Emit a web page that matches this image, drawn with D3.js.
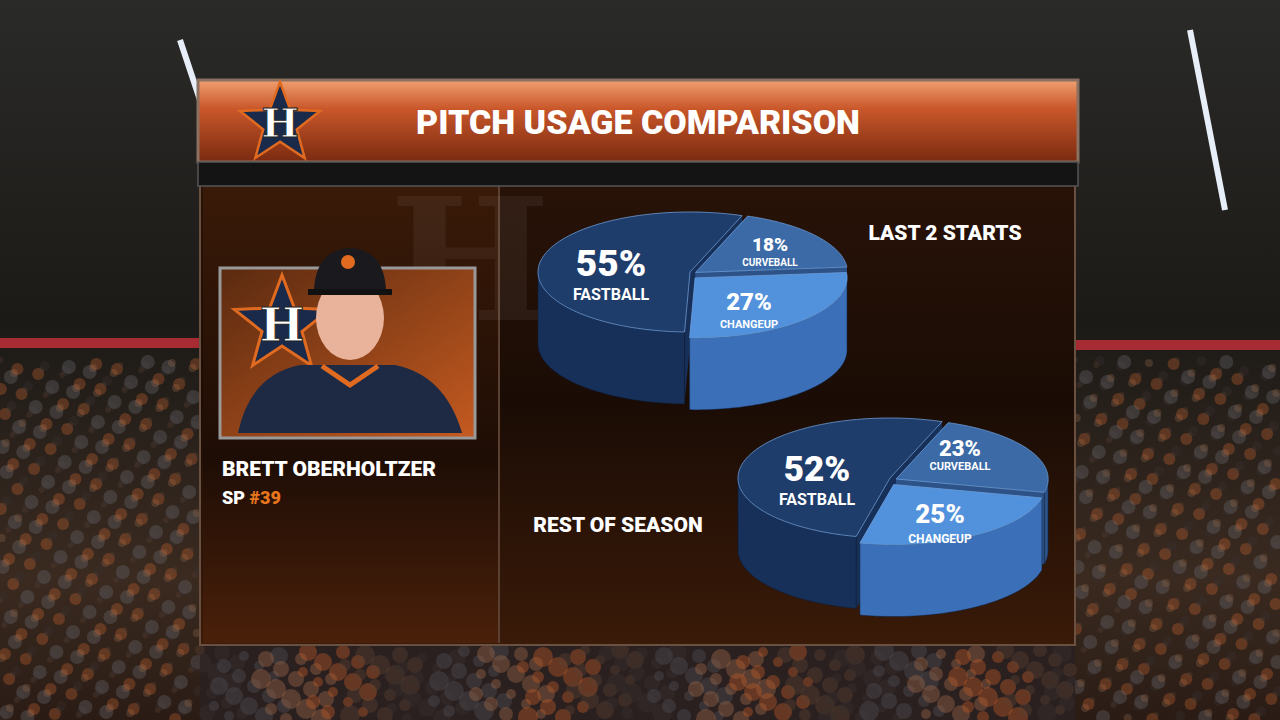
<!DOCTYPE html>
<html><head><meta charset="utf-8">
<script src="https://cdn.jsdelivr.net/npm/d3@7"></script>
<style>body{margin:0;background:#000}svg{display:block}</style>
</head><body>
<svg id="c" width="1280" height="720"></svg>
<script>
// pitch mix, order: curveball, changeup, fastball
var pitchNames = ["CURVEBALL", "CHANGEUP", "FASTBALL"];
var last2Starts = [18, 27, 55];
var restOfSeason = [23, 25, 52];
var chartTitle = "PITCH USAGE COMPARISON";

var svg = d3.select("#c");
var defs = svg.append("defs");

function lin(id, stops, x2, y2){
  var g = defs.append("linearGradient").attr("id", id)
    .attr("x1",0).attr("y1",0).attr("x2",x2||0).attr("y2",y2===undefined?1:y2);
  stops.forEach(function(s){ g.append("stop").attr("offset",s[0]).attr("stop-color",s[1]); });
}
lin("bg", [[0,"#2a2a28"],[0.45,"#1c1a17"],[0.8,"#3a2a20"],[1,"#2a1c15"]]);
lin("head", [[0,"#f0a070"],[0.35,"#c9572a"],[1,"#7a2a10"]]);
lin("panel", [[0,"#2a1308"],[0.5,"#1a0c05"],[1,"#3a1a08"]]);
lin("leftp", [[0,"#3a1a08"],[0.6,"#1e0d05"],[1,"#4a200a"]]);
lin("photo", [[0,"#5a2a10"],[1,"#c55a20"]], 1, 1);

// background stadium
svg.append("rect").attr("width",1280).attr("height",720).attr("fill","url(#bg)");
svg.append("rect").attr("x",0).attr("y",338).attr("width",200).attr("height",10).attr("fill","#c8303a").attr("opacity",0.8);
svg.append("rect").attr("x",1075).attr("y",340).attr("width",205).attr("height",10).attr("fill","#c8303a").attr("opacity",0.8);
svg.append("path").attr("d","M180,40 L200,100 M1190,30 L1225,210").attr("stroke","#e8eef8").attr("stroke-width",6);
// crowd texture
var crowd = [];
for (var i = 0; i < 900; i++) crowd.push(i);
svg.append("g").selectAll("circle").data(crowd).join("circle")
  .attr("cx", function(d){ var x=(d*97)%480; return x<240? x*0.83 : 1075+(x-240)*0.85; })
  .attr("cy", function(d){ return 360+((d*53)%360); })
  .attr("r", function(d){ return 3+(d%5); })
  .attr("fill", function(d){ return ["#5a4030","#8a6048","#3a3030","#c06030","#6a6a70"][d%5]; })
  .attr("opacity",0.35);
svg.append("rect").attr("x",200).attr("y",645).attr("width",875).attr("height",75).attr("fill","#2a2020");
svg.append("g").selectAll("circle").data(crowd.slice(0,300)).join("circle")
  .attr("cx", function(d){ return 200+((d*131)%875); })
  .attr("cy", function(d){ return 650+((d*29)%70); })
  .attr("r", function(d){ return 5+(d%6); })
  .attr("fill", function(d){ return ["#5a4030","#a06848","#3a3030","#c05a25","#505058"][d%5]; })
  .attr("opacity",0.4);

// panel
svg.append("rect").attr("x",200).attr("y",160).attr("width",875).attr("height",485).attr("fill","url(#panel)").attr("stroke","#6a5040").attr("stroke-width",2);
svg.append("rect").attr("x",203).attr("y",185).attr("width",295).attr("height",458).attr("fill","url(#leftp)");
svg.append("line").attr("x1",499).attr("x2",499).attr("y1",185).attr("y2",643).attr("stroke","#5a4030").attr("stroke-width",2);
svg.append("rect").attr("x",198).attr("y",80).attr("width",880).attr("height",82).attr("fill","url(#head)").attr("stroke","#8a7060").attr("stroke-width",3);
svg.append("rect").attr("x",198).attr("y",162).attr("width",880).attr("height",24).attr("fill","#141414").attr("stroke","#555").attr("stroke-width",1.5);

function astro(g, cx, cy, s){
  var pts = d3.range(10).map(function(i){
    var a = i*Math.PI/5 - Math.PI/2, r = i%2? s*0.42 : s;
    return [cx+r*Math.cos(a), cy+r*Math.sin(a)];
  });
  g.append("polygon").attr("points",pts.join(" ")).attr("fill","#1a2a4a").attr("stroke","#e06a20").attr("stroke-width",s*0.06);
  g.append("text").attr("x",cx).attr("y",cy+s*0.32).attr("text-anchor","middle")
    .attr("font-family","DejaVu Serif").attr("font-weight","bold").attr("font-size",s*0.95)
    .attr("fill","#fff").attr("stroke","#222").attr("stroke-width",1).text("H");
}
astro(svg, 280, 124, 42);
svg.append("text").attr("x",638).attr("y",134).attr("text-anchor","middle")
  .attr("font-family","Roboto").attr("font-weight",900).attr("font-size",34).attr("fill","#fff").text(chartTitle);
// faint watermark
svg.append("text").attr("x",470).attr("y",320).attr("text-anchor","middle").attr("font-family","DejaVu Serif").attr("font-weight","bold")
  .attr("font-size",170).attr("fill","#fff").attr("opacity",0.05).text("H");

// photo
svg.append("rect").attr("x",220).attr("y",268).attr("width",255).attr("height",170).attr("fill","url(#photo)").attr("stroke","#999").attr("stroke-width",3);
var ph = svg.append("g");
astro(ph, 282, 325, 50);
ph.append("path").attr("d","M238,433 Q250,375 300,365 L395,365 Q445,375 462,433 Z").attr("fill","#1e2a44");
ph.append("path").attr("d","M322,366 L350,385 L378,366").attr("fill","none").attr("stroke","#e06a20").attr("stroke-width",5);
ph.append("ellipse").attr("cx",350).attr("cy",318).attr("rx",34).attr("ry",42).attr("fill","#e8b39a");
ph.append("path").attr("d","M314,290 Q316,250 350,248 Q384,250 386,290 Z").attr("fill","#1a1a1e");
ph.append("path").attr("d","M308,292 L392,292").attr("stroke","#111").attr("stroke-width",6);
ph.append("circle").attr("cx",348).attr("cy",262).attr("r",7).attr("fill","#e06a20");
svg.append("text").attr("x",222).attr("y",476).attr("font-family","Roboto").attr("font-weight",900).attr("font-size",21).attr("fill","#fff").text("BRETT OBERHOLTZER");
var sp = svg.append("text").attr("x",222).attr("y",504).attr("font-family","Roboto").attr("font-weight",900).attr("font-size",18).attr("fill","#fff");
sp.append("tspan").text("SP ");
sp.append("tspan").attr("fill","#e8761e").text("#39");

// 3D pies
var topCol = ["#3b6aa6", "#5291dc", "#1f3d6b"];
var sideCol = ["#2c5288", "#3b70b8", "#17305a"];
var pie = d3.pie().sort(null).startAngle(0.35).endAngle(0.35 + 2*Math.PI);

function pie3d(values, cx, cy, rx, ry, depth, labels){
  var g = svg.append("g");
  var arcs = pie(values);
  function pt(a, dx, dy, z){ return [cx+dx+rx*Math.sin(a), cy+dy-ry*Math.cos(a)+z]; }
  arcs.forEach(function(d, i){
    var mid = (d.startAngle+d.endAngle)/2, off = i==2 ? 0 : 7;
    d.dx = off*Math.sin(mid); d.dy = off*Math.cos(mid)*-0.6 + (i==2?0:3);
  });
  // walls & sides
  var order = [2, 0, 1];
  order.forEach(function(i){
    var d = arcs[i];
    [d.startAngle, d.endAngle].forEach(function(a){
      var c = [cx+d.dx, cy+d.dy], p = pt(a, d.dx, d.dy, 0);
      g.append("path").attr("d","M"+c+"L"+p+"L"+[p[0],p[1]+depth]+"L"+[c[0],c[1]+depth]+"Z").attr("fill",sideCol[i]);
    });
    var ts = d3.range(0, 121).map(function(k){ return d.startAngle + (d.endAngle-d.startAngle)*k/120; })
      .filter(function(t){ return Math.cos(t) < 0.02; });
    if (ts.length > 1) {
      var up = ts.map(function(t){ return pt(t, d.dx, d.dy, 0); });
      var dn = ts.slice().reverse().map(function(t){ return pt(t, d.dx, d.dy, depth); });
      g.append("path").attr("d","M"+up.concat(dn).join("L")+"Z").attr("fill",sideCol[i]).attr("stroke","#0c1c36").attr("stroke-width",0.5);
    }
  });
  arcs.forEach(function(d, i){
    var ts = d3.range(0, 121).map(function(k){ return d.startAngle + (d.endAngle-d.startAngle)*k/120; });
    var p = ts.map(function(t){ return pt(t, d.dx, d.dy, 0); });
    g.append("path").attr("d","M"+[cx+d.dx, cy+d.dy]+"L"+p.join("L")+"Z").attr("fill",topCol[i]).attr("stroke","#6b9ad4").attr("stroke-width",0.8);
  });
  labels.forEach(function(l, i){
    g.append("text").attr("x",l[0]).attr("y",l[1]).attr("text-anchor","middle").attr("font-family","Roboto").attr("font-weight",900)
      .attr("font-size",l[2]).attr("fill","#fff").text(values[i]+"%");
    g.append("text").attr("x",l[0]).attr("y",l[1]+l[3]).attr("text-anchor","middle").attr("font-family","Roboto").attr("font-weight",700)
      .attr("font-size",l[4]).attr("fill","#fff").text(pitchNames[i]);
  });
}
pie3d(last2Starts, 690, 272, 152, 60, 72, [[770,251,19,15,10],[749,310,24,18,11],[611,276,37,24,16]]);
pie3d(restOfSeason, 890, 478, 152, 60, 72, [[960,456,22,14,11],[940,523,26,20,12],[817,481,35,24,16]]);

svg.append("text").attr("x",945).attr("y",240).attr("text-anchor","middle").attr("font-family","Roboto").attr("font-weight",900).attr("font-size",21).attr("fill","#fff").text("LAST 2 STARTS");
svg.append("text").attr("x",618).attr("y",532).attr("text-anchor","middle").attr("font-family","Roboto").attr("font-weight",900).attr("font-size",21).attr("fill","#fff").text("REST OF SEASON");
</script>
</body></html>
